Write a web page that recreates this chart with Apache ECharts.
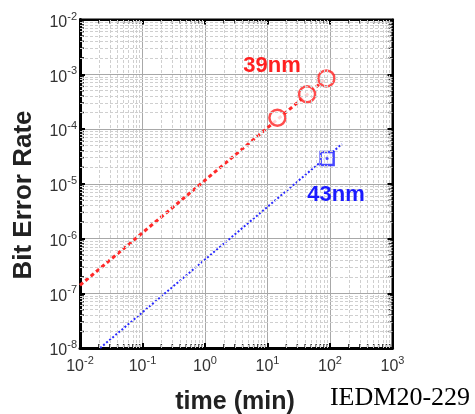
<!DOCTYPE html>
<html>
<head>
<meta charset="utf-8">
<script src="https://cdn.jsdelivr.net/npm/echarts@6/dist/echarts.min.js"></script>
<style>html,body{margin:0;padding:0;background:#fff;}#c{width:475px;height:414px;}</style>
</head>
<body>
<div id="c"></div>
<script>
// ---- data ----
const xTickExps = [-2, -1, 0, 1, 2, 3];
const yTickExps = [-8, -7, -6, -5, -4, -3, -2];
const red39Line = [[0.01, 1.4e-7], [87.5, 8.4e-4]];
const red39Points = [[14.4, 1.6e-4], [43, 4.3e-4], [87.5, 8.4e-4]];
const blue43Line = [[0.021, 1e-8], [155, 5.3e-5]];
const blue43Points = [[90, 2.9e-5]];
const xTitle = 'time (min)';
const yTitle = 'Bit Error Rate';
const label39 = '39nm';
const label43 = '43nm';
const footer = 'IEDM20-229';

const chart = echarts.init(document.getElementById('c'), null, {renderer: 'canvas'});

function expLabel(v) {
  const e = Math.round(Math.log10(v));
  return '{b|10}{s|' + e + '}';
}
const richLab = {
  b: {fontFamily: 'Liberation Sans', fontSize: 16, color: '#333', padding: [6, 0, 0, 0]},
  s: {fontFamily: 'Liberation Sans', fontSize: 11, color: '#333', padding: [0, 0, 6, 0]}
};

const xMin = 0.01, xMax = 1000, yMin = 1e-8, yMax = 1e-2;

// minor grid values (2..9 x 10^k)
const minorX = [], minorY = [];
for (const e of xTickExps.slice(0, -1)) for (let m = 2; m <= 9; m++) minorX.push(m * Math.pow(10, e));
for (const e of yTickExps.slice(0, -1)) for (let m = 2; m <= 9; m++) minorY.push(m * Math.pow(10, e));

const minorLineStyle = {color: '#cfcfcf', width: 1, type: [3, 2]};
const markMinorX = {
  silent: true, symbol: 'none', animation: false, label: {show: false},
  lineStyle: minorLineStyle,
  data: minorX.map(v => [{coord: [v, yMin]}, {coord: [v, yMax]}])
};
const markMinorY = {
  silent: true, symbol: 'none', animation: false, label: {show: false},
  lineStyle: minorLineStyle,
  data: minorY.map(v => [{coord: [xMin, v]}, {coord: [xMax, v]}])
};

// minor ticks along the frame
const minorTickPts = [];
minorX.forEach(v => { minorTickPts.push({value: [v, yMin], symbolOffset: [0, -2]}); minorTickPts.push({value: [v, yMax], symbolOffset: [0, 2]}); });
const minorTickPtsY = [];
minorY.forEach(v => { minorTickPtsY.push({value: [xMin, v], symbolOffset: [2, 0]}); minorTickPtsY.push({value: [xMax, v], symbolOffset: [-2, 0]}); });

const axisCommon = {
  type: 'log', logBase: 10,
  splitLine: {show: true, lineStyle: {color: '#a8a8a8', width: 1}},
  axisTick: {show: true, inside: true, length: 5, lineStyle: {color: '#000', width: 2}},
  axisLine: {show: true, lineStyle: {color: '#000', width: 3}},
  minorTick: {show: false}, minorSplitLine: {show: false}
};

chart.setOption({
  animation: false,
  backgroundColor: '#fff',
  grid: {left: 80, top: 19.5, right: 82.5, bottom: 66, show: true, borderColor: '#000', borderWidth: 2, containLabel: false},
  xAxis: [
    Object.assign({}, axisCommon, {
      min: xMin, max: xMax, interval: 1,
      axisLabel: {formatter: expLabel, rich: richLab, margin: 5}
    }),
    Object.assign({}, axisCommon, {
      position: 'top', min: xMin, max: xMax, interval: 1,
      splitLine: {show: false}, axisLabel: {show: false},
      axisLine: {show: true, lineStyle: {color: '#000', width: 2}}
    })
  ],
  yAxis: [
    Object.assign({}, axisCommon, {
      min: yMin, max: yMax, interval: 1,
      axisLabel: {formatter: expLabel, rich: richLab, margin: 3}
    }),
    Object.assign({}, axisCommon, {
      position: 'right', min: yMin, max: yMax, interval: 1,
      splitLine: {show: false}, axisLabel: {show: false},
      axisLine: {show: true, lineStyle: {color: '#000', width: 2}}
    })
  ],
  series: [
    {
      type: 'scatter', data: minorTickPts, symbol: 'rect', symbolSize: [1.5, 4],
      itemStyle: {color: '#000'}, silent: true, z: 1, markLine: markMinorX, clip: false
    },
    {
      type: 'scatter', data: minorTickPtsY, symbol: 'rect', symbolSize: [4, 1.5],
      itemStyle: {color: '#000'}, silent: true, z: 1, markLine: markMinorY, clip: false
    },
    {
      type: 'line', data: red39Line, symbol: 'none', z: 3,
      lineStyle: {color: '#ff2a2a', width: 3, type: [4, 3]}
    },
    {
      type: 'scatter', data: red39Points, symbol: 'circle', symbolSize: 16, z: 4,
      itemStyle: {color: '#fff', borderColor: '#ff2020', borderWidth: 2.5}
    },
    {
      type: 'line', data: blue43Line, symbol: 'none', z: 3,
      lineStyle: {color: '#2a2aff', width: 2, type: [2, 2]}
    },
    {
      type: 'scatter', data: blue43Points, symbol: 'rect', symbolSize: 13, z: 4,
      itemStyle: {color: '#fff', borderColor: '#1a1aff', borderWidth: 2.5}
    },
    {
      type: 'scatter', data: blue43Points, symbol: 'circle', symbolSize: 3, z: 5,
      itemStyle: {color: '#1a1aff'}
    }
  ],
  graphic: [
    {type: 'text', x: 24, y: 195, rotation: Math.PI / 2,
      style: {text: yTitle, font: 'bold 26px "Liberation Sans"', fill: '#222', align: 'center', verticalAlign: 'middle'}},
    {type: 'text', x: 235, y: 402,
      style: {text: xTitle, font: 'bold 25px "Liberation Sans"', fill: '#222', align: 'center', verticalAlign: 'middle'}},
    {type: 'text', x: 400, y: 398,
      style: {text: footer, font: '26px "Liberation Serif"', fill: '#000', align: 'center', verticalAlign: 'middle'}},
    {type: 'text', x: 272, y: 66, z: 10,
      style: {text: label39, font: 'bold 22px "Liberation Sans"', fill: '#ff2020', align: 'center', verticalAlign: 'middle'}},
    {type: 'text', x: 336, y: 195, z: 10,
      style: {text: label43, font: 'bold 22px "Liberation Sans"', fill: '#1a1aff', align: 'center', verticalAlign: 'middle'}}
  ]
});
</script>
</body>
</html>
